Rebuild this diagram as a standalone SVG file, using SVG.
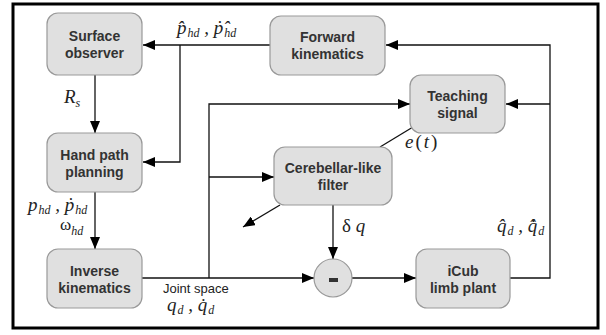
<svg xmlns="http://www.w3.org/2000/svg" width="606" height="335" viewBox="0 0 606 335">
<style>
.box{fill:#e0e0e0;stroke:#999;stroke-width:1.2}
.lbl{font-family:"Liberation Sans",Arial,sans-serif;font-weight:bold;font-size:14px;fill:#333;text-anchor:middle}
.ln{fill:none;stroke:#111;stroke-width:1.3}
.m{font-family:"Liberation Serif","Times New Roman",serif;font-style:italic;font-size:19px;fill:#222}
.s{font-family:"Liberation Serif","Times New Roman",serif;font-style:italic;font-size:12px;fill:#222}
.t{font-family:"Liberation Sans",Arial,sans-serif;font-size:13px;fill:#222}
</style>
<defs>
<marker id="ah" viewBox="0 0 12 10" refX="12" refY="5" markerWidth="12" markerHeight="10" markerUnits="userSpaceOnUse" orient="auto">
<path d="M0,0 L12,5 L0,10 Z" fill="#000"/>
</marker>
</defs>
<rect x="13" y="4" width="585" height="324" fill="#fff" stroke="#000" stroke-width="3"/>
<g id="connectors">
<path class="ln" d="M270,45 H143" marker-end="url(#ah)"/>
<path class="ln" d="M180,45 V162 H143" marker-end="url(#ah)"/>
<path class="ln" d="M95,75 V133" marker-end="url(#ah)"/>
<path class="ln" d="M95,192 V249" marker-end="url(#ah)"/>
<path class="ln" d="M142,278 H314" marker-end="url(#ah)"/>
<path class="ln" d="M209,278 V104 H410" marker-end="url(#ah)"/>
<path class="ln" d="M209,177 H274" marker-end="url(#ah)"/>
<path class="ln" d="M333,205 V259" marker-end="url(#ah)"/>
<path class="ln" d="M352,278 H416" marker-end="url(#ah)"/>
<path class="ln" d="M510,278 H550 V45 H386" marker-end="url(#ah)"/>
<path class="ln" d="M550,104 H506" marker-end="url(#ah)"/>
<path class="ln" d="M413,127 L380,147"/>
<path class="ln" d="M280,205 L243,227" marker-end="url(#ah)"/>
</g>
<g id="surface-observer">
<rect class="box" x="47" y="13" width="95" height="62" rx="11"/>
<text class="lbl" x="94.5" y="41">Surface</text>
<text class="lbl" x="94.5" y="58">observer</text>
</g>
<g id="hand-path-planning">
<rect class="box" x="47" y="133" width="95" height="59" rx="11"/>
<text class="lbl" x="94.5" y="160">Hand path</text>
<text class="lbl" x="94.5" y="177">planning</text>
</g>
<g id="inverse-kinematics">
<rect class="box" x="47" y="249" width="95" height="59" rx="11"/>
<text class="lbl" x="94.5" y="276">Inverse</text>
<text class="lbl" x="94.5" y="293">kinematics</text>
</g>
<g id="forward-kinematics">
<rect class="box" x="270" y="16" width="115" height="59" rx="11"/>
<text class="lbl" x="327.5" y="42">Forward</text>
<text class="lbl" x="327.5" y="59">kinematics</text>
</g>
<g id="teaching-signal">
<rect class="box" x="410" y="75" width="95" height="58" rx="11"/>
<text class="lbl" x="457.5" y="101">Teaching</text>
<text class="lbl" x="457.5" y="118">signal</text>
</g>
<g id="cerebellar-filter">
<rect class="box" x="274" y="147" width="118" height="58" rx="11"/>
<text class="lbl" x="333" y="173">Cerebellar-like</text>
<text class="lbl" x="333" y="190">filter</text>
</g>
<g id="sum">
<circle cx="333" cy="278" r="19" fill="#e0e0e0" stroke="#999" stroke-width="1.2"/>
<rect x="329" y="278" width="9" height="4" fill="#333"/>
</g>
<g id="icub-limb-plant">
<rect class="box" x="416" y="249" width="94" height="59" rx="11"/>
<text class="lbl" x="463" y="276">iCub</text>
<text class="lbl" x="463" y="293">limb plant</text>
</g>
<g id="labels">
<text class="m" x="177" y="34">p̂<tspan class="s" dy="3" dx="1">hd</tspan><tspan dy="-3"> , ṗ̂</tspan><tspan class="s" dy="3" dx="1">hd</tspan></text>
<text class="m" x="64" y="103">R<tspan class="s" dy="4">s</tspan></text>
<text class="m" x="28" y="211">p<tspan class="s" dy="3" dx="1">hd</tspan><tspan dy="-3"> , ṗ</tspan><tspan class="s" dy="3" dx="1">hd</tspan></text>
<text class="m" x="60" y="230"><tspan font-style="normal" font-size="17">ω</tspan><tspan class="s" dy="5">hd</tspan></text>
<text class="t" x="163" y="293">Joint space</text>
<text class="m" x="167" y="311">q<tspan class="s" dy="3" dx="1">d</tspan><tspan dy="-3"> , q̇</tspan><tspan class="s" dy="3" dx="1">d</tspan></text>
<text class="m" x="342" y="232"><tspan font-style="normal">δ</tspan> q</text>
<text class="m" x="497" y="232">q̂<tspan class="s" dy="3" dx="1">d</tspan><tspan dy="-3"> , q̇̂</tspan><tspan class="s" dy="3" dx="1">d</tspan></text>
<text class="m" x="405" y="148">e<tspan font-style="normal" dx="2">(</tspan><tspan dx="2">t</tspan><tspan font-style="normal" dx="2">)</tspan></text>
</g>
</svg>
